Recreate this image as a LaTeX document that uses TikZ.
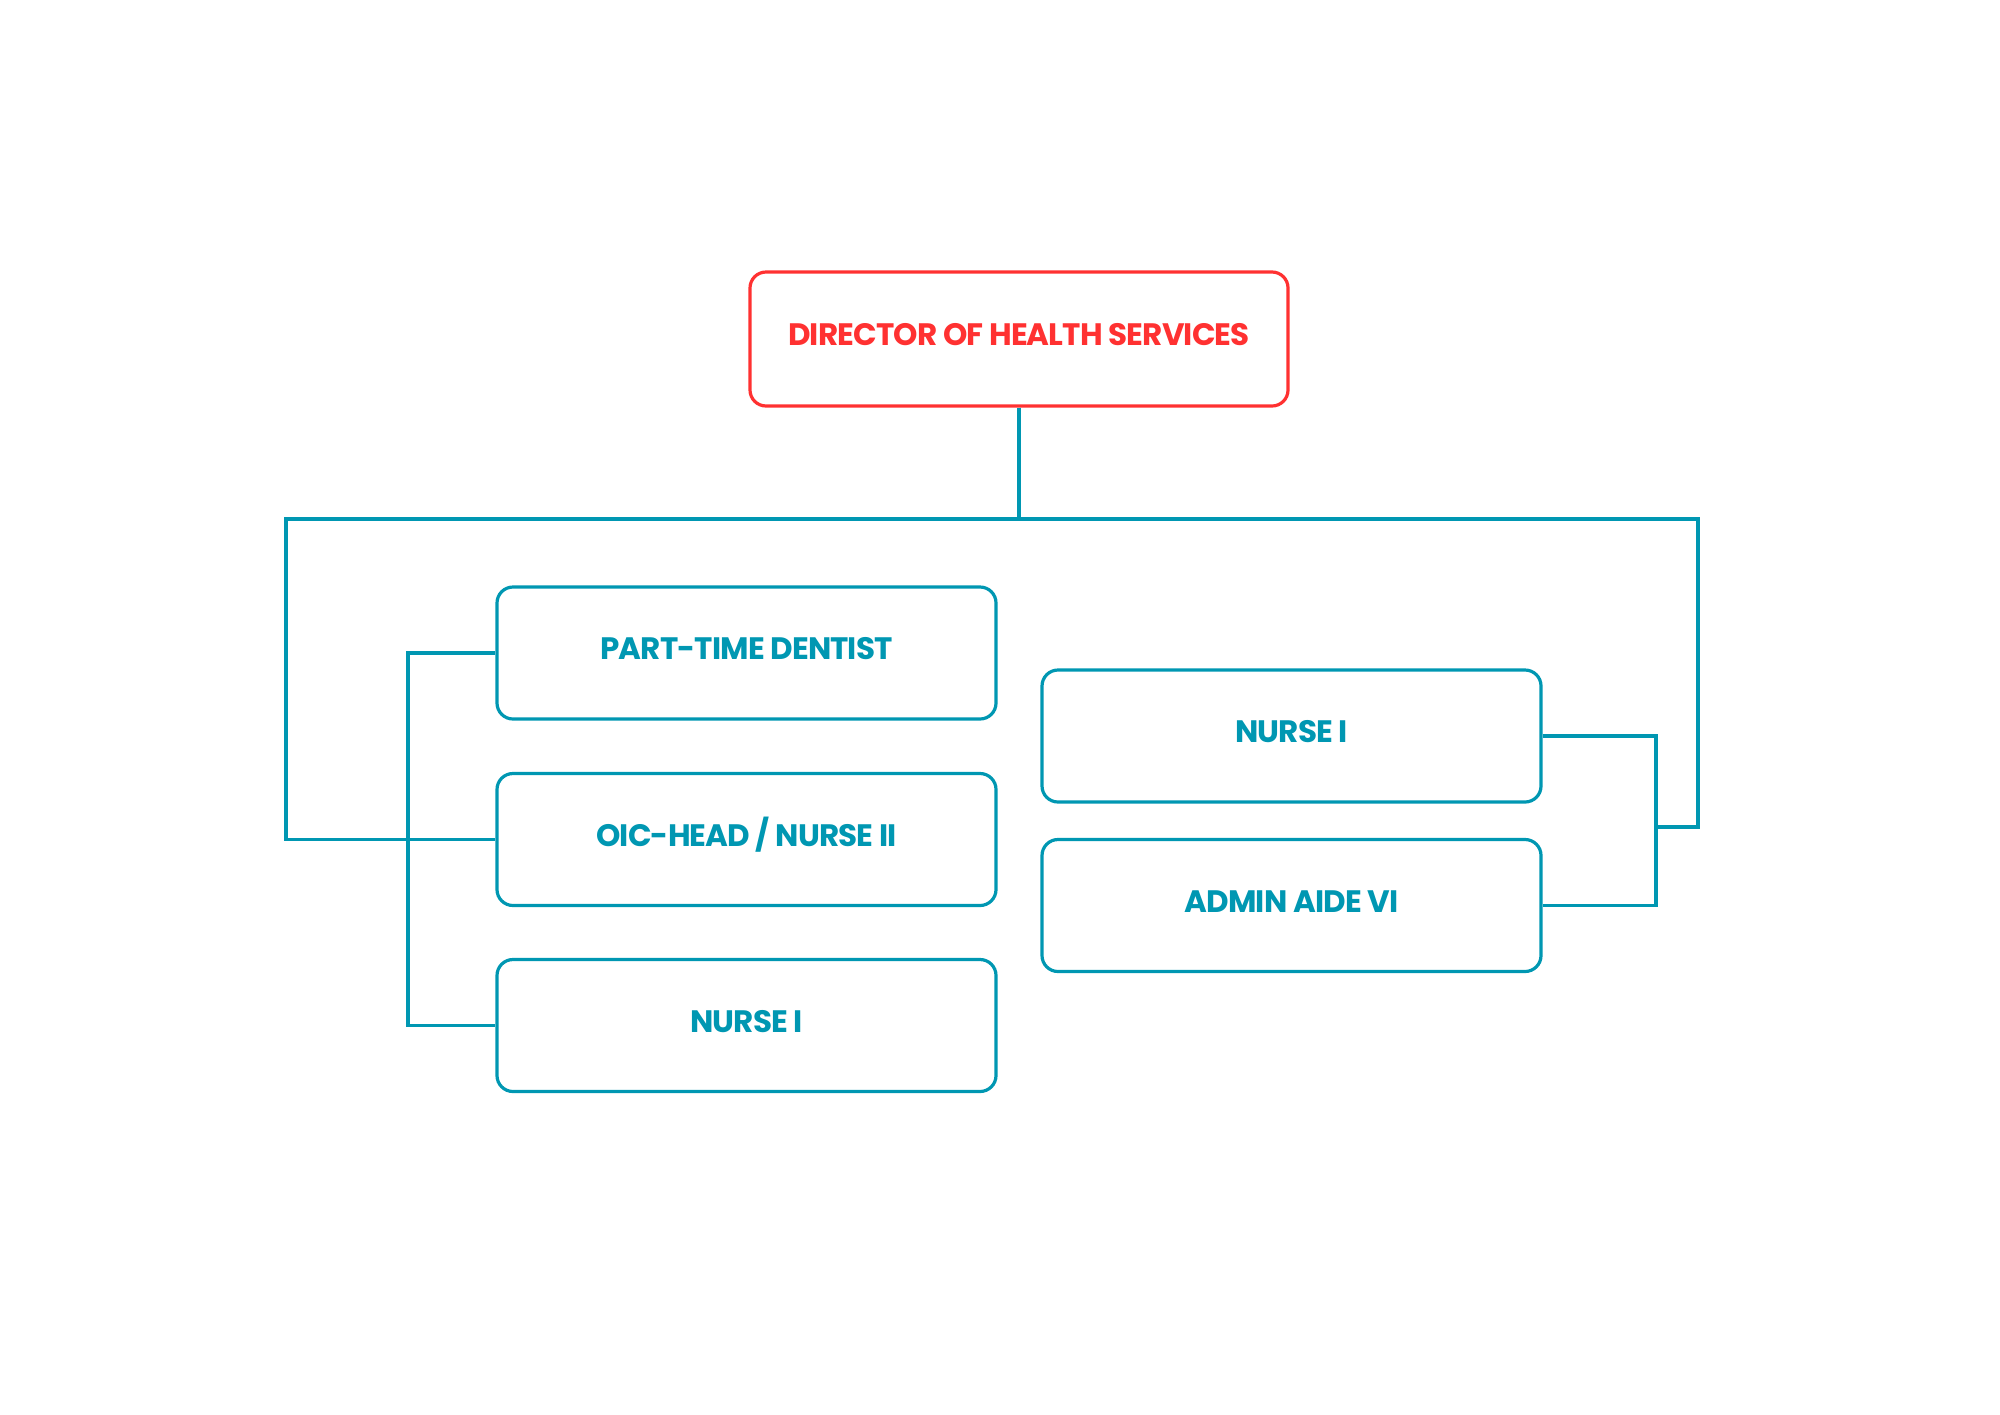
\documentclass[tikz,border=0pt]{standalone}
\usepackage{fontspec}
\setmainfont{Poppins}
\definecolor{tealc}{HTML}{0097B2}
\definecolor{redc}{HTML}{FF3131}
\tikzset{
  orgbox/.style={draw=tealc, line width=1.6pt, rounded corners=8pt, minimum width=249.5pt, minimum height=66pt, inner sep=0pt,
    text=tealc, font=\bfseries\fontsize{15.5}{18}\selectfont\addfontfeatures{LetterSpace=-2.8}, text height=11pt, text depth=4.5pt},
  topbox/.style={orgbox, draw=redc, text=redc, minimum width=269pt, minimum height=67pt},
  link/.style={draw=tealc, line width=1.6pt}
}
\begin{document}
\begin{tikzpicture}[x=0.5pt,y=-0.5pt]
\useasboundingbox (0,0) rectangle (2000,1414);
\node[topbox] (dir) at (1019,339) {DIRECTOR OF HEALTH SERVICES};
\node[orgbox] (pt) at (746.5,653) {PART-TIME DENTIST};
\node[orgbox] (oic) at (746.5,839.5) {OIC-HEAD / NURSE II};
\node[orgbox] (n1L) at (746.5,1025.5) {NURSE I};
\node[orgbox] (n1R) at (1291.5,736) {NURSE I};
\node[orgbox] (adm) at (1291.5,905.5) {ADMIN AIDE VI};
\coordinate (busL) at (286,519);
\coordinate (busR) at (1698,519);
\coordinate (jR) at (1656,827);
\coordinate (sbL) at (408,0);
\coordinate (sbR) at (1656,0);
\draw[link] (dir.south) |- (busL) |- (oic.west);
\draw[link] (dir.south) |- (busR) |- (jR);
\draw[link] (pt.west) -- (pt.west -| sbL) |- (n1L.west);
\draw[link] (n1R.east) -- (n1R.east -| sbR) |- (adm.east);
\end{tikzpicture}
\end{document}
